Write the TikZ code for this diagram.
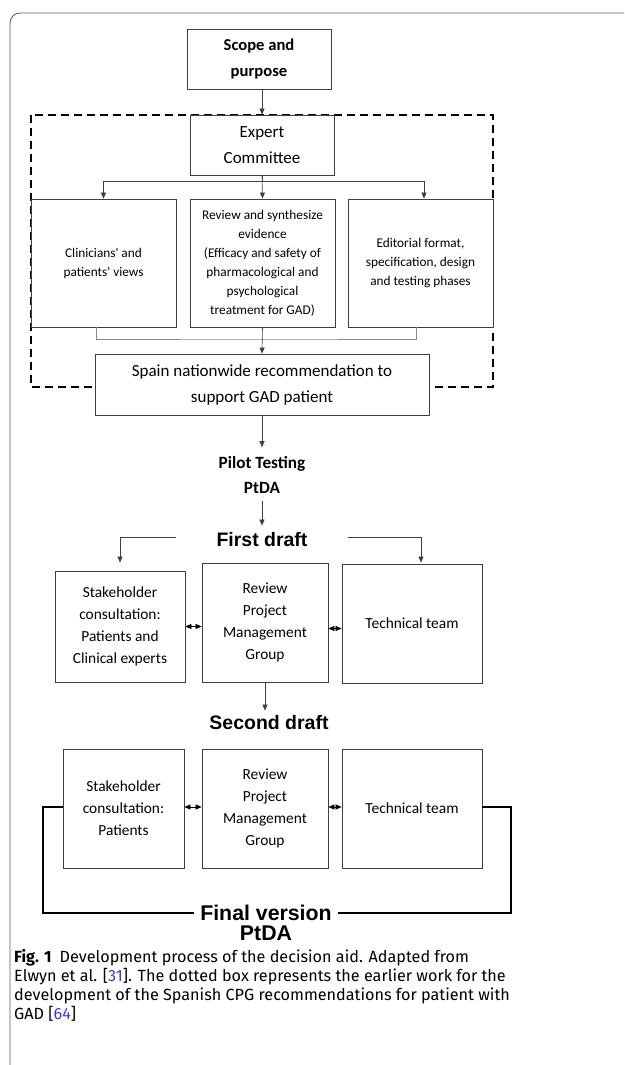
\documentclass[tikz,border=0pt]{standalone}
\usepackage{fontspec}
\usepackage{xcolor}
\usetikzlibrary{positioning,arrows.meta}
\newfontfamily\carlito{Carlito}
\newfontfamily\arialfont{Liberation Sans}
\newfontfamily\capfont{Fira Sans}
\definecolor{boxline}{HTML}{3F3F3F}
\definecolor{linkgray}{HTML}{8A8A8A}
\definecolor{framegray}{HTML}{5A5A5A}
\definecolor{citeblue}{HTML}{2E3FE0}

\begin{document}
\begin{tikzpicture}[x=1pt,y=-1pt,>={Triangle[length=6pt,width=5pt]}]
  \useasboundingbox (0,0) rectangle (624,1065);

  \tikzstyle{box}=[draw=boxline,line width=0.8pt,fill=white,align=center,inner sep=0pt,font=\carlito\fontsize{13.3}{19}\selectfont]
  \tikzstyle{row}=[box,font=\carlito\fontsize{15.4}{22}\selectfont]
  \tikzstyle{head}=[align=center,inner sep=2pt,font=\arialfont\bfseries\fontsize{19.5}{20}\selectfont]
  \tikzstyle{link}=[->,draw=boxline,line width=0.6pt]
  \tikzstyle{both}=[<->,draw=black,line width=0.6pt]
  \tikzstyle{loop}=[draw=black,line width=1.4pt]

  % page frame
  \draw[framegray,line width=0.8pt,rounded corners=10pt] (624,13) -- (10,13) -- (10,1065);

  % earlier work (dotted box)
  \draw[black,line width=1.2pt,dash pattern=on 8pt off 5pt] (31,115) rectangle (493,387);

  % top part
  \node[box,minimum width=144pt,minimum height=60pt,font=\carlito\bfseries\fontsize{16.6}{26}\selectfont] (scope) at (259,59) {Scope and\\purpose};
  \node[box,minimum width=144pt,minimum height=60pt,font=\carlito\fontsize{17}{26}\selectfont] (expert) at (262,145) {Expert\\Committee};

  \node[box,minimum width=145pt,minimum height=128pt] (views) at (103.5,263) {Clinicians' and\\patients' views};
  \node[box,minimum width=145pt,minimum height=128pt] (evidence) at (262.5,263) {Review and synthesize\\evidence\\(Efficacy and safety of\\pharmacological and\\psychological\\treatment for GAD)};
  \node[box,minimum width=145pt,minimum height=128pt] (editorial) at (420.5,263) {Editorial format,\\specification, design\\and testing phases};

  \node[box,minimum width=334pt,minimum height=61pt,font=\carlito\fontsize{17}{26}\selectfont] (spain) at (262,384.5) {Spain nationwide recommendation to\\support GAD patient};

  \coordinate (merge) at (262,339);

  \draw[link] (scope.south -| expert.north) -- (expert.north);
  \draw[link] (expert.south) -- (evidence.north);
  \draw[link] (expert.south) -- ++(0,6) -| (views.north);
  \draw[link] (expert.south) -- ++(0,6) -| ([xshift=3.5pt]editorial.north);
  \draw[linkgray,line width=0.6pt] ([xshift=-7pt]views.south) |- (merge) -| ([xshift=-4.5pt]editorial.south);
  \draw[link] (evidence.south) -- (spain.north);

  % pilot testing
  \node[align=center,inner sep=0pt,font=\carlito\bfseries\fontsize{17.2}{25}\selectfont] (pilot) at (262,475) {Pilot Testing\\PtDA};
  \draw[link,shorten >=9pt] (spain.south) -- (pilot.north);

  % first draft
  \node[head] (first) at (262,540) {First draft};
  \draw[link,shorten <=7pt,shorten >=5pt] (pilot.south) -- (first.north);

  \node[row,minimum width=130pt,minimum height=111pt] (stake1) at (120,626.5) {Stakeholder\\consultation:\\Patients and\\Clinical experts};
  \node[row,minimum width=126pt,minimum height=119pt] (review1) at (265,622.5) {Review\\Project\\Management\\Group};
  \node[row,minimum width=140pt,minimum height=119pt] (tech1) at (412,623.5) {Technical team};

  \draw[link,shorten <=38pt,shorten >=8pt] ([yshift=3pt]first.west) -| (stake1.north);
  \draw[link,shorten <=38pt,shorten >=1pt] ([yshift=3pt]first.east) -| ([xshift=9pt]tech1.north);
  \draw[both] (stake1.east) -- (stake1.east -| review1.west);
  \draw[both] ([yshift=-6pt]review1.east) -- ([yshift=-6pt]review1.east -| tech1.west);

  % second draft
  \node[head] (second) at (269,723) {Second draft};
  \draw[link,shorten >=3pt] (review1.south) -- (second.north -| review1.south);

  \node[row,minimum width=121pt,minimum height=119pt] (stake2) at (123.5,808.5) {Stakeholder\\consultation:\\Patients};
  \node[row,minimum width=126pt,minimum height=119pt] (review2) at (265,808.5) {Review\\Project\\Management\\Group};
  \node[row,minimum width=140pt,minimum height=119pt] (tech2) at (412,808.5) {Technical team};

  \draw[both] ([yshift=1.5pt]stake2.east) -- ([yshift=1.5pt]stake2.east -| review2.west);
  \draw[both] ([yshift=1.5pt]review2.east) -- ([yshift=1.5pt]review2.east -| tech2.west);

  % final version
  \node[head,inner sep=6pt,font=\arialfont\bfseries\fontsize{21.3}{22}\selectfont] (final) at (266,913) {Final version};
  \node[head,font=\arialfont\bfseries\fontsize{21.3}{22}\selectfont] (ptda) at (266,933) {PtDA};
  \coordinate (loopL) at (43,913);
  \coordinate (loopR) at (511,913);
  \draw[loop] ([yshift=1.5pt]stake2.west) -| (loopL) -- (final.west);
  \draw[loop] ([yshift=1.5pt]tech2.east) -| (loopR) -- (final.east);

  % caption
  \node[anchor=north west,align=left,inner sep=0pt,font=\capfont\fontsize{16.2}{19}\selectfont] (caption) at (14,949) {\textbf{Fig. 1}\enspace Development process of the decision aid. Adapted from\\Elwyn et al. [{\color{citeblue}31}]. The dotted box represents the earlier work for the\\development of the Spanish CPG recommendations for patient with\\GAD [{\color{citeblue}64}]};
\end{tikzpicture}
\end{document}
